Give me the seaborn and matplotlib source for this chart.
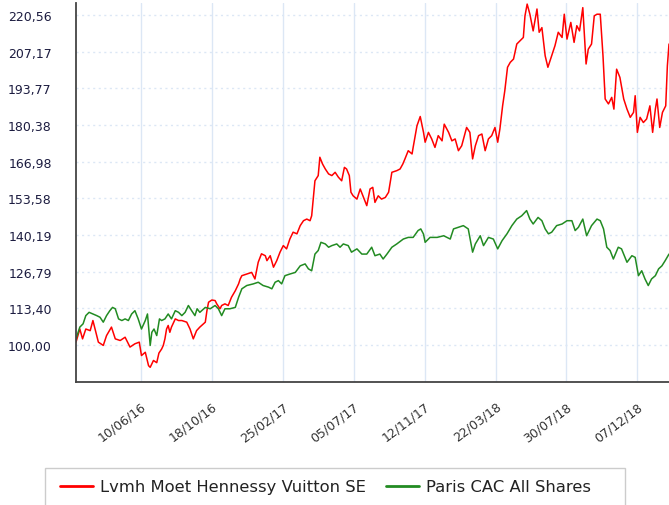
import numpy as np
import pandas as pd
import matplotlib
matplotlib.use("Agg")
import matplotlib.pyplot as plt
import matplotlib.dates as mdates
from matplotlib.patches import Rectangle
from matplotlib.lines import Line2D
import seaborn as sns

# ---------------- data ----------------
START_DATE = "2016-02-12"
series_names = ["Lvmh Moet Hennessy Vuitton SE", "Paris CAC All Shares"]

lvmh_days = [0, 7, 12, 18, 26, 31, 35, 41, 50, 56, 65, 72, 81, 90, 99, 108, 116, 120, 127, 133,
             136, 142, 148, 152, 157, 160, 163, 166, 169, 172, 175, 182, 188, 194, 203, 209, 215,
             221, 227, 237, 240, 243, 249, 255, 258, 264, 267, 273, 279, 285, 292, 298, 301, 304,
             313, 322, 328, 334, 340, 347, 350, 356, 362, 368, 374, 380, 386, 392, 398, 405, 411,
             417, 423, 429, 432, 438, 444, 447, 452, 457, 463, 469, 475, 481, 487, 492, 496, 501,
             504, 508, 515, 521, 527, 533, 539, 544, 548, 554, 560, 567, 573, 579, 588, 594, 599,
             603, 609, 616, 618, 625, 631, 637, 640, 646, 652, 658, 664, 671, 675, 683, 689, 695,
             701, 707, 716, 722, 727, 732, 738, 744, 750, 756, 762, 768, 773, 777, 782, 786, 791,
             796, 802, 808, 814, 820, 823, 827, 832, 838, 845, 849, 854, 860, 865, 871, 878, 884,
             891, 895, 900, 907, 913, 918, 923, 929, 935, 939, 945, 950, 955, 961, 966, 970, 976,
             982, 986, 991, 997, 1004, 1010, 1016, 1022, 1025, 1029, 1034, 1040, 1046, 1052, 1057,
             1062, 1065, 1070, 1075, 1081, 1084, 1087]
lvmh_values = [101.0, 105.8, 102.2, 105.8, 105.2, 108.9, 105.8, 101.0, 99.8, 103.4, 106.5, 102.2,
               101.6, 102.8, 99.2, 100.4, 101.0, 96.1, 97.3, 92.4,
               91.8, 94.3, 93.5, 97.0, 98.5, 99.8, 102.2, 105.8, 107.1, 104.6, 106.5, 109.5, 108.9,
               108.9, 108.3, 105.8, 102.2,
               105.2, 106.5, 108.3, 112.5, 115.6, 116.4, 116.2, 115.0, 113.2, 114.4, 115.0, 114.4,
               117.4, 119.8, 122.3, 124.1, 125.3,
               125.9, 126.5, 124.1, 130.2, 133.3, 132.6, 130.8, 132.6, 128.4, 130.8, 133.9, 136.3,
               135.1, 138.7, 141.2, 140.6, 143.6,
               145.4, 146.0, 145.4, 147.2, 160.0, 161.9, 168.6, 166.1, 164.3, 162.5, 161.9, 163.1,
               161.3, 160.0, 164.9, 164.3, 161.9,
               155.8, 154.5, 153.3, 157.0, 153.9, 150.9, 157.0, 157.6, 152.1, 154.5, 153.3, 153.9,
               155.8, 163.1, 163.7, 164.3, 166.1,
               168.0, 171.0, 169.8, 172.2, 180.1, 183.5, 177.7, 174.1, 177.7, 175.3, 172.2, 176.5,
               174.6, 180.7, 177.7, 174.6, 175.3,
               171.0, 172.8, 179.5, 177.7, 168.0, 172.8, 176.5, 177.1, 171.0, 175.3, 176.5, 179.5,
               174.1, 178.9, 187.4, 192.9, 201.5,
               203.3, 204.5, 210.0, 211.2, 212.4, 220.3, 224.6, 220.9, 214.8, 222.8, 214.3, 216.0,
               205.7, 201.5, 205.1, 209.4, 214.3,
               212.4, 220.9, 211.8, 217.9, 210.6, 216.7, 214.8, 223.3, 202.7, 208.1, 210.0, 220.3,
               220.9, 220.9, 205.7, 189.9, 188.1,
               190.5, 186.2, 200.8, 197.8, 189.9, 186.2, 183.2, 185.0, 191.1, 177.7, 183.2, 181.3,
               182.6, 187.4, 177.7,
               186.2, 189.9, 179.5, 185.0, 187.4, 202.0, 210.0]

cac_days = [0, 7, 13, 18, 24, 31, 38, 44, 50, 56, 62, 67, 72, 78, 84, 90, 96, 102, 108, 114,
            120, 127, 131, 136, 139, 143, 148, 153, 157, 163, 169, 175, 182, 188, 194, 200, 206,
            212, 218, 222, 227, 237, 246, 255, 261, 267, 273, 282, 292, 298, 304, 313, 325, 334,
            343, 353, 359, 365, 371, 377, 383, 392, 402, 411, 420, 426, 432, 438, 444, 449, 457,
            463, 469, 478, 484, 490, 499, 505, 515, 524, 533, 542, 548, 557, 563, 570, 579, 588,
            600, 609, 618, 627, 632, 637, 640, 649, 662, 674, 686, 692, 701, 710, 719, 727, 732,
            741, 747, 756, 765, 773, 781, 790, 799, 808, 817, 826, 832, 838, 847, 854, 860, 866,
            872, 881, 891, 900, 909, 915, 921, 929, 936, 945, 955, 961, 967, 973, 979, 985, 994,
            1000, 1010, 1019, 1025, 1031, 1037, 1043, 1049, 1055, 1062, 1068, 1074, 1080, 1087]
cac_values = [102.2, 106.5, 107.7, 110.7, 111.9, 111.3, 110.7, 110.1, 108.3, 110.7, 112.5, 113.7,
              113.2, 109.5, 108.9, 109.5, 108.9, 111.3, 112.5, 109.5,
              105.8, 108.9, 111.3, 99.8, 104.6, 105.8, 103.4, 109.5, 108.9, 109.5, 111.3, 109.5,
              112.5, 111.9, 110.7, 111.9, 114.4,
              112.5, 110.7, 113.2, 111.9, 113.7, 113.2, 114.4, 113.2, 110.7, 113.2, 113.2, 113.7,
              117.4, 120.5, 121.7, 122.3, 122.9,
              121.7, 121.1, 120.5, 122.9, 123.5, 122.3, 125.3, 125.9, 126.5, 128.9, 129.6, 127.8,
              127.1, 133.2, 134.5, 137.5, 136.9,
              135.7, 136.3, 136.9, 135.7, 136.9, 136.3, 133.9, 135.1, 133.2, 133.2, 135.7, 132.6,
              133.2, 131.4, 133.2, 135.7, 136.9,
              138.7, 139.3, 139.3, 141.8, 142.4, 140.5, 137.5, 139.3, 139.3, 139.9, 138.7, 142.4,
              143.0, 143.6, 142.4, 133.9, 136.9,
              139.9, 136.3, 139.3, 138.7, 135.1, 138.1, 140.6, 143.6, 146.0, 147.2, 149.1, 146.0,
              144.2, 146.6, 145.4, 142.4, 140.6,
              141.2, 143.6, 144.2, 145.4, 145.4, 141.8, 143.0, 146.0, 139.9, 143.6, 146.0, 145.4,
              142.4, 135.7, 134.5, 131.4, 135.7,
              135.1, 130.2, 132.6, 132.0, 125.3, 127.1, 124.1, 121.7, 124.1, 125.3, 127.8, 128.9,
              130.8, 133.2]

y_tick_values = [86.61, 100.00, 113.40, 126.79, 140.19, 153.58, 166.98, 180.38, 193.77, 207.17, 220.56]
y_tick_labels = ["", "100,00", "113,40", "126,79", "140,19", "153,58", "166,98", "180,38",
                 "193,77", "207,17", "220,56"]
x_tick_labels = ["10/06/16", "18/10/16", "25/02/17", "05/07/17", "12/11/17", "22/03/18",
                 "30/07/18", "07/12/18"]
x_range = ["2016-02-12", "2019-02-03"]
y_range = [86.61, 225.0]

colors = {series_names[0]: "#ff0000", series_names[1]: "#228b22"}

# ---------------- frame ----------------
start = pd.Timestamp(START_DATE)
df = pd.concat([
    pd.DataFrame({"date": start + pd.to_timedelta(lvmh_days, unit="D"),
                  "value": lvmh_values, "series": series_names[0]}),
    pd.DataFrame({"date": start + pd.to_timedelta(cac_days, unit="D"),
                  "value": cac_values, "series": series_names[1]}),
], ignore_index=True)

sns.set_style("white")
plt.rcParams["font.family"] = ["DejaVu Sans"]

W, H = 669, 506
fig = plt.figure(figsize=(W / 100, H / 100), dpi=100)
ax = fig.add_axes([76 / W, 1 - 382.5 / H, 1 - 76 / W, (382.5 - 4) / H])

grid_c = "#dce7f5"
# grid
for v in y_tick_values:
    ax.axhline(v, color=grid_c, lw=1.0, ls=(0, (1.5, 2.5)), zorder=0)
x_tick_dates = [pd.to_datetime(t, format="%d/%m/%y") for t in x_tick_labels]
for d in x_tick_dates:
    ax.axvline(d, color=grid_c, lw=1.0, zorder=0)

sns.lineplot(data=df, x="date", y="value", hue="series", palette=colors,
             linewidth=1.1, legend=False, ax=ax, zorder=3, estimator=None)

ax.set_xlim(pd.Timestamp(x_range[0]), pd.Timestamp(x_range[1]))
ax.set_ylim(*y_range)
ax.set_yticks(y_tick_values)
ax.set_yticklabels(y_tick_labels)
ax.set_xticks(x_tick_dates)
ax.set_xticklabels(x_tick_labels)
ax.set_xlabel("")
ax.set_ylabel("")

ax.tick_params(axis="y", length=14.5, width=1.0, color=grid_c, pad=3,
               labelsize=9, labelcolor="#1c1c40")
ax.tick_params(axis="x", length=11, width=1.0, color=grid_c, pad=2,
               labelsize=9, labelcolor="#333333")
for lbl in ax.get_xticklabels():
    lbl.set_rotation(37)
    lbl.set_ha("right")
    lbl.set_va("top")
    lbl.set_rotation_mode("anchor")

for s in ["top", "right"]:
    ax.spines[s].set_visible(False)
for s in ["left", "bottom"]:
    ax.spines[s].set_color("#444444")
    ax.spines[s].set_linewidth(1.3)
    ax.spines[s].set_zorder(4)

# legend box
fig.patches.append(Rectangle((45 / W, 1 - 512 / H), 580 / W, 43 / H,
                             transform=fig.transFigure, fill=False,
                             edgecolor="#cccccc", lw=1.0))
handles = [Line2D([0], [0], color=colors[n], lw=2.0) for n in series_names]
fig.legend(handles, series_names, loc="center left",
           bbox_to_anchor=(52 / W, 1 - 488 / H), ncol=2, frameon=False,
           fontsize=11.8, handlelength=2.0, handletextpad=0.45, columnspacing=1.2,
           borderpad=0, labelcolor="#222222")

fig.savefig("out.png", dpi=100)
